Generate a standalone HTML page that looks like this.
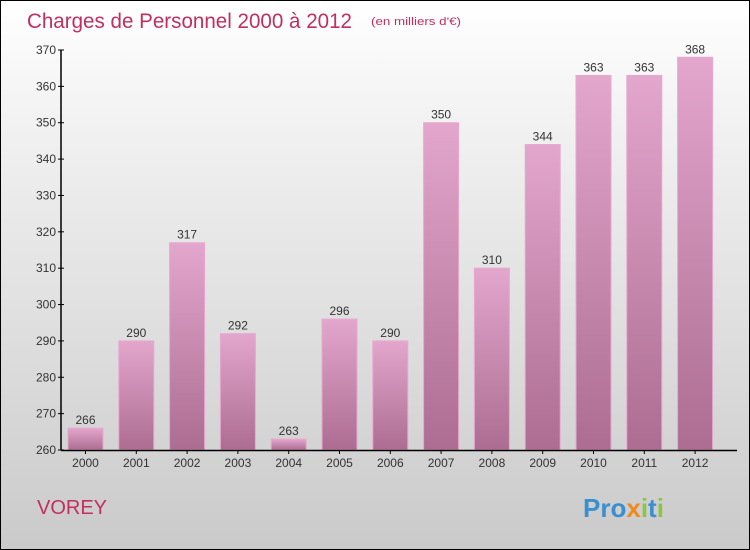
<!DOCTYPE html>
<html><head><meta charset="utf-8"><style>
body{margin:0}
#c{position:relative;width:748px;height:548px;border:1px solid #000;background:linear-gradient(#ffffff,#f0f0f0 25%,#dcdcdc 65%,#cacaca);font-family:"Liberation Sans",sans-serif;overflow:hidden}
</style></head><body>
<div id="c">
<svg width="748" height="548" id="s">
<defs><linearGradient id="g" x1="0" y1="0" x2="0" y2="1"><stop offset="0" stop-color="#e3a6cc"/><stop offset="1" stop-color="#ad6d92"/></linearGradient></defs>
<text x="26" y="27" font-size="21" fill="#c0305f" textLength="325" lengthAdjust="spacingAndGlyphs">Charges de Personnel 2000 à 2012</text>
<text x="370" y="24" font-size="11" fill="#c0305f" textLength="90" lengthAdjust="spacingAndGlyphs">(en milliers d'€)</text>
<text x="36" y="513" font-size="20" fill="#c0305f">VOREY</text>
<g font-size="26" font-weight="bold">
<text x="582" y="516"><tspan fill="#3a8fd0">Pro</tspan><tspan fill="#f08a1c">x</tspan><tspan fill="#8cc63f">i</tspan><tspan fill="#3a8fd0">t</tspan><tspan fill="#8cc63f">i</tspan></text>
</g>
</svg>
</div>
<script>
const categories=["2000","2001","2002","2003","2004","2005","2006","2007","2008","2009","2010","2011","2012"];
const values=[266,290,317,292,263,296,290,350,310,344,363,363,368];
const yTicks=[260,270,280,290,300,310,320,330,340,350,360,370];
const NS="http://www.w3.org/2000/svg",s=document.getElementById('s');
const y=v=>449-(v-260)*(400/110);
const x=i=>84.5+i*50.8;
function el(t,a){const e=document.createElementNS(NS,t);for(const k in a)e.setAttribute(k,a[k]);s.appendChild(e);return e;}
yTicks.forEach(t=>{
 const l=el('line',{x1:57,x2:63,y1:y(t),y2:y(t),stroke:'#000'});
 
 
 const tx=el('text',{x:55,y:y(t)+4,'text-anchor':'end','font-size':12,fill:'#333'});tx.textContent=t;
 
 
});
values.forEach((v,i)=>{
 const r=el('rect',{x:x(i)-17.5,y:y(v),width:35,height:449-y(v),fill:'url(#g)',stroke:'#e6a9cf','stroke-width':1});
 
 
 const t=el('text',{x:x(i),y:y(v)-4,'text-anchor':'middle','font-size':12,fill:'#333'});t.textContent=v;
 
 
 const c=el('text',{x:x(i),y:466,'text-anchor':'middle','font-size':12,fill:'#333'});c.textContent=categories[i];
 
 
 const tk=el('line',{x1:x(i),x2:x(i),y1:449,y2:453,stroke:'#000'});
 
 
});
const ya=el('line',{x1:60,x2:60,y1:y(370),y2:449.5,stroke:'#000','stroke-width':1.5});


const xa=el('line',{x1:60,x2:736,y1:449.5,y2:449.5,stroke:'#000','stroke-width':1.5});


</script>
</body></html>
